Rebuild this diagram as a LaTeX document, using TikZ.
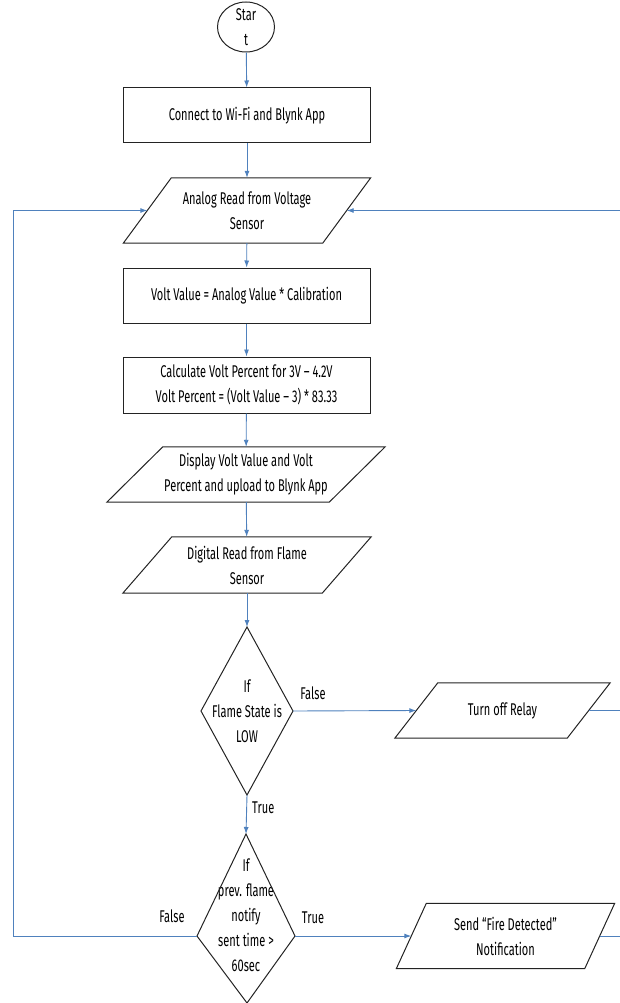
\documentclass[tikz,border=0pt]{standalone}
\usepackage{fontspec}
\setmainfont[FakeStretch=0.65]{Fira Sans}
\usetikzlibrary{arrows.meta,calc,positioning,shapes.geometric}
\definecolor{flowblue}{RGB}{79,129,189}
\definecolor{edgegray}{RGB}{35,35,35}

\begin{document}
\begin{tikzpicture}[x=1pt,y=-1pt,>={Latex[length=7pt,width=5pt]},
  every node/.style={font=\fontsize{17}{25}\selectfont,align=center,inner sep=0pt},
  flow/.style={->,flowblue,line width=0.9pt},
  link/.style={flowblue,line width=0.9pt},
  outline/.style={draw=edgegray,line width=1pt},
  procbox/.style={outline,minimum width=247pt,minimum height=55pt}]
  \useasboundingbox (0,0) rectangle (619,1003);
  % main column
  \node[outline,ellipse,minimum width=57pt,minimum height=50pt,inner sep=-4pt] (start) at (246,27) {Star\\t};
  \node[procbox] (conn) at (247,115.5) {Connect to Wi-Fi and Blynk App};
  \node[minimum width=199pt,minimum height=65pt] (aread) at (247,210.5) {Analog Read from Voltage\\Sensor};
  \node[procbox] (vval) at (246.5,295.5) {Volt Value = Analog Value * Calibration};
  \node[procbox,minimum height=56pt] (vpct) at (246.5,385) {Calculate Volt Percent for 3V – 4.2V\\Volt Percent = (Volt Value – 3) * 83.33};
  \node[minimum width=222pt,minimum height=55pt] (disp) at (246,474.5) {Display Volt Value and Volt\\Percent and upload to Blynk App};
  \node[minimum width=199pt,minimum height=56pt] (fread) at (247,565) {Digital Read from Flame\\Sensor};
  \node[minimum width=172pt,minimum height=55pt] (relay) at (502.5,710.5) {Turn off Relay};
  \node[minimum width=188pt,minimum height=65pt] (notify) at (505.5,936) {Send “Fire Detected”\\Notification};
  % parallelograms round the io nodes
  \foreach \n/\s in {aread/24,disp/28,fread/24.5,relay/21.5,notify/15}
    \draw[outline] ($(\n.north west)+(\s,0)$) -- ($(\n.north east)+(\s,0)$)
      -- ($(\n.south east)+(-\s,0)$) -- ($(\n.south west)+(-\s,0)$) -- cycle;
  % decisions
  \node (flame) at (247,711) {If\\Flame State is\\LOW};
  \coordinate (flameT) at (247,627);
  \coordinate (flameR) at (293,711);
  \coordinate (flameB) at (247,795);
  \coordinate (flameL) at (201,711);
  \draw[outline] (flameT) -- (flameR) -- (flameB) -- (flameL) -- cycle;
  \node (sent) at (246,915) {If\\prev. flame\\notify\\sent time >\\60sec};
  \coordinate (sentT) at (246,834);
  \coordinate (sentR) at (295,936);
  \coordinate (sentB) at (247,1003);
  \coordinate (sentL) at (197,936);
  \draw[outline] (sentT) -- (sentR) -- (sentB) -- (sentL) -- cycle;
  % connectors
  \draw[flow] (start) -- (conn);
  \draw[flow] (conn) -- (aread);
  \draw[flow] (aread) -- (vval);
  \draw[flow] (vval) -- (vpct);
  \draw[flow] (vpct) -- (disp);
  \draw[flow] (disp) -- (fread);
  \draw[flow] (fread.south) -- (flameT);
  \draw[flow] (flameR) -- (relay.west);
  \draw[flow] (flameB) -- (sentT);
  \draw[flow] (sentR) -- (notify.west);
  \coordinate (loopL) at (13,936);
  \draw[flow] (sentL) -- (loopL) |- (aread.west);
  \draw[flow] (relay.east) -- ++(40,0) |- (aread.east);
  \draw[link] (notify.east) -- ++(50,0);
  % branch labels
  \node (flameF) at (313,693) {False};
  \node[anchor=west] (flameY) at (252,808) {True};
  \node (sentF) at (172,916) {False};
  \node (sentY) at (313,918) {True};
\end{tikzpicture}
\end{document}
